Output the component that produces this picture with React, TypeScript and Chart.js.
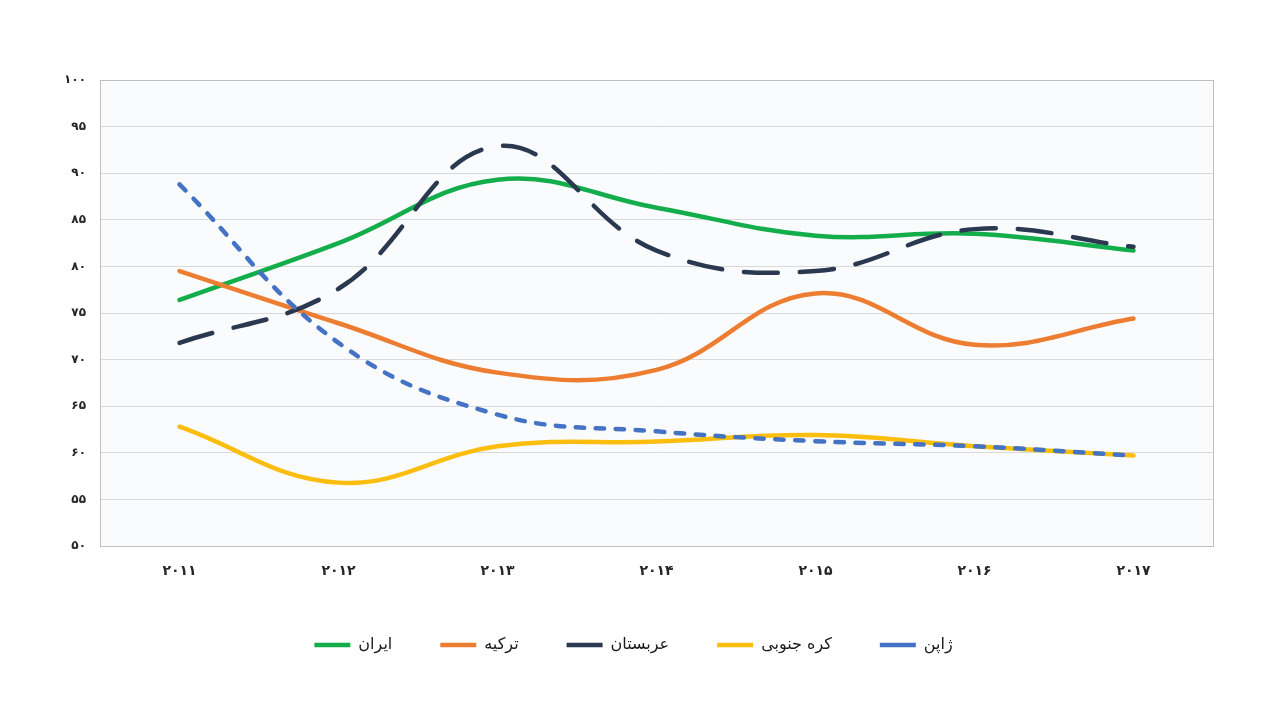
import React, { useEffect, useRef } from "react";
import { Chart, registerables } from "chart.js";

Chart.register(...registerables);

const years = ["۲۰۱۱", "۲۰۱۲", "۲۰۱۳", "۲۰۱۴", "۲۰۱۵", "۲۰۱۶", "۲۰۱۷"];

const iran = [76.4, 82.5, 89.3, 86.3, 83.3, 83.5, 81.7];
const turkey = [79.5, 73.9, 68.6, 68.9, 77.1, 71.6, 74.4];
const arabia = [71.8, 77.6, 92.9, 81.7, 79.5, 84.0, 82.1];
const korea = [62.8, 56.8, 60.7, 61.2, 61.9, 60.7, 59.7];
const japan = [88.8, 71.8, 64.1, 62.3, 61.25, 60.7, 59.7];

const seriesNames = ["ایران", "ترکیه", "عربستان", "کره جنوبی", "ژاپن"];

const yMin = 50;
const yMax = 100;
const yStep = 5;

const faDigits = "۰۱۲۳۴۵۶۷۸۹";
const toFa = (v: number | string) =>
  String(v).replace(/\d/g, (d) => faDigits[Number(d)]);

const FONT = "'DejaVu Sans', 'Noto Sans', sans-serif";

const plotFrame = {
  id: "plotFrame",
  beforeDraw(chart: any) {
    const { ctx, chartArea } = chart;
    if (!chartArea) return;
    ctx.save();
    ctx.fillStyle = "#f9fbfd";
    ctx.fillRect(
      chartArea.left,
      chartArea.top,
      chartArea.right - chartArea.left,
      chartArea.bottom - chartArea.top
    );
    ctx.restore();
  },
  afterDraw(chart: any) {
    const { ctx, chartArea } = chart;
    if (!chartArea) return;
    ctx.save();
    ctx.strokeStyle = "#bfbfbf";
    ctx.lineWidth = 1;
    ctx.strokeRect(
      Math.round(chartArea.left) + 0.5,
      Math.round(chartArea.top) + 0.5,
      Math.round(chartArea.right - chartArea.left),
      Math.round(chartArea.bottom - chartArea.top)
    );
    ctx.restore();
  },
};

export default function App() {
  const canvasRef = useRef<HTMLCanvasElement | null>(null);

  useEffect(() => {
    if (!canvasRef.current) return;
    const mk = (
      label: string,
      data: number[],
      color: string,
      order: number,
      dash: number[] = []
    ) => ({
      label,
      data,
      borderColor: color,
      backgroundColor: color,
      borderWidth: 4.5,
      borderDash: dash,
      borderCapStyle: "round" as const,
      borderJoinStyle: "round" as const,
      pointRadius: 0,
      pointHoverRadius: 0,
      pointStyle: "line" as const,
      tension: 0.4,
      fill: false,
      order,
    });

    const chart = new Chart(canvasRef.current, {
      type: "line",
      data: {
        labels: years,
        datasets: [
          mk(seriesNames[0], iran, "#14ad4b", 5),
          mk(seriesNames[1], turkey, "#ed7d31", 4),
          mk(seriesNames[2], arabia, "#2a3850", 3, [34, 22]),
          mk(seriesNames[3], korea, "#fbbd0e", 2),
          mk(seriesNames[4], japan, "#4472c4", 1, [8.5, 11.5]),
        ],
      },
      options: {
        animation: false,
        responsive: true,
        maintainAspectRatio: false,
        layout: { padding: { left: 54, right: 67, top: 80, bottom: 57 } },
        plugins: {
          tooltip: { enabled: false },
          legend: {
            position: "bottom",
            labels: {
              usePointStyle: true,
              pointStyleWidth: 36,
              padding: 48,
              color: "#1a1a1a",
              font: { family: FONT, size: 16 },
              sort: (a: any, b: any) => a.datasetIndex - b.datasetIndex,
            },
          },
        },
        scales: {
          x: {
            offset: true,
            grid: { display: false, drawTicks: false },
            border: { display: false },
            ticks: {
              padding: 17,
              color: "#262626",
              font: { family: FONT, size: 14, weight: "bold" },
              maxRotation: 0,
            },
            afterFit: (s: any) => {
              s.height = 43;
            },
          },
          y: {
            min: yMin,
            max: yMax,
            grid: { color: "#d9d9d9", lineWidth: 1, drawTicks: false },
            border: { display: false },
            ticks: {
              stepSize: yStep,
              padding: 14,
              color: "#262626",
              font: { family: FONT, size: 12, weight: "bold" },
              callback: (v: any) => toFa(v),
            },
            afterFit: (s: any) => {
              s.width = 46;
            },
          },
        },
      },
      plugins: [plotFrame],
    });
    return () => chart.destroy();
  }, []);

  return (
    <div
      style={{
        position: "absolute",
        left: 0,
        top: 0,
        width: 1280,
        height: 720,
        background: "#ffffff",
      }}
    >
      <canvas ref={canvasRef} />
    </div>
  );
}
